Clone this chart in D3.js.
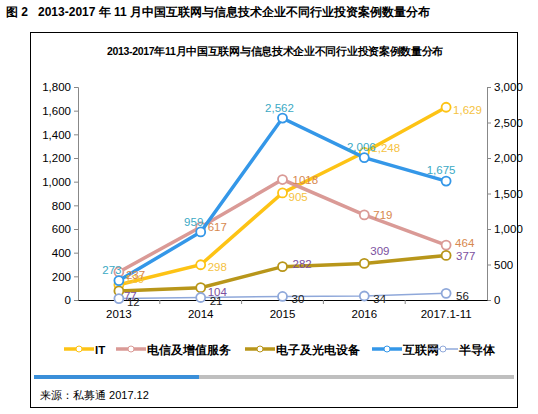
<!DOCTYPE html><html><head><meta charset="utf-8"><script src="https://d3js.org/d3.v7.min.js"></script>
<style>body{margin:0;background:#fff}text{font-family:"Liberation Sans",Arial,sans-serif}</style></head><body>
<script>
const categories=["2013","2014","2015","2016","2017.1-11"];
const itVals=[129,298,905,1248,1629];
const telecomVals=[237,617,1018,719,464];
const electronicsVals=[77,104,282,309,377];
const internetVals=[273,959,2562,2006,1675];
const semiVals=[12,21,30,34,56];
const leftTicks=[0,200,400,600,800,1000,1200,1400,1600,1800];
const rightTicks=[0,500,1000,1500,2000,2500,3000];
const cjk='"Noto Sans CJK SC",sans-serif';
const svg=d3.select("body").append("svg").attr("width",538).attr("height",414);
svg.append("text").attr("x",6).attr("y",16).attr("font-family",cjk).attr("font-weight","bold").attr("font-size",12).attr("xml:space","preserve").style("white-space","pre").text("图 2   2013-2017 年 11 月中国互联网与信息技术企业不同行业投资案例数量分布");
svg.append("rect").attr("x",30.5).attr("y",32.5).attr("width",487).attr("height",375).attr("fill","none").attr("stroke","#000");
svg.append("text").attr("x",275).attr("y",55).attr("text-anchor","middle").attr("font-family",cjk).attr("font-weight","bold").attr("font-size",10.5).attr("letter-spacing",-0.3).text("2013-2017年11月中国互联网与信息技术企业不同行业投资案例数量分布");
const x=d3.scaleBand().domain(categories).range([78,487]);
const yL=d3.scaleLinear().domain([0,1800]).range([300,87]);
const yR=d3.scaleLinear().domain([0,3000]).range([300,87]);
const gL=svg.append("g").attr("transform","translate(78,0)").call(d3.axisLeft(yL).tickValues(leftTicks).tickFormat(d3.format(",")).tickSize(4));
const gR=svg.append("g").attr("transform","translate(487,0)").call(d3.axisRight(yR).tickValues(rightTicks).tickFormat(d3.format(",")).tickSize(4));
const gB=svg.append("g").attr("transform","translate(0,300)").call(d3.axisBottom(x).tickSize(0).tickPadding(10));
[gL,gR,gB].forEach(g=>{g.selectAll("text").attr("font-size",11.5).attr("fill","#000");g.selectAll("path,line").attr("stroke","#888")});
gB.select(".domain").attr("stroke","#000");
gB.selectAll(".mt").data(categories.slice(1)).enter().append("line").attr("x1",d=>x(d)).attr("x2",d=>x(d)).attr("y1",0).attr("y2",4).attr("stroke","#888");
const series=[
 {name:"IT",vals:itVals,c:"#FDC315",y:yL,w:3.5,lc:"#F5C242",dx:[6,7,6,7,7],dy:[-6,2,4,-4,3]},
 {name:"电信及增值服务",vals:telecomVals,c:"#DA9A96",y:yL,w:3.5,lc:"#D7884E",dx:[7,7,10,9,9],dy:[3,0,0,0,-2]},
 {name:"电子及光电设备",vals:electronicsVals,c:"#B8961A",y:yL,w:3.5,lc:"#7B4FA0",dx:[5,7,10,6,10],dy:[5,4,-3,-12,1]},
 {name:"互联网",vals:internetVals,c:"#3497E8",y:yR,w:3.5,lc:"#3BA9C4",dx:[-7,-7,-3,-3,-5],dy:[-11,-10,-10,-11,-11]},
 {name:"半导体",vals:semiVals,c:"#8FA8DA",y:yL,w:1.5,lc:"#222",dx:[8,9,9,9,10],dy:[3,3,3,3,3]}];
const labels=svg.append("g");
series.forEach(s=>{
 const pts=s.vals.map((v,i)=>[x(categories[i])+x.bandwidth()/2,s.y(v)]);
 svg.append("path").attr("d",d3.line()(pts)).attr("fill","none").attr("stroke",s.c).attr("stroke-width",s.w);
 svg.selectAll(null).data(pts).enter().append("circle").attr("cx",d=>d[0]).attr("cy",d=>d[1]).attr("r",4.5).attr("fill","#fff").attr("stroke",s.c).attr("stroke-width",1.8);
 labels.selectAll(null).data(s.vals).enter().append("text").attr("x",(d,i)=>pts[i][0]+s.dx[i]).attr("y",(d,i)=>pts[i][1]+s.dy[i]+4)
  .attr("text-anchor",s.name==="互联网"?"middle":"start").attr("font-size",11.5).attr("fill",s.lc).text(d=>d===1018?"1018":d3.format(",")(d));
});
labels.raise();
const lg=[{n:"IT",x:60},{n:"电信及增值服务",x:112},{n:"电子及光电设备",x:241},{n:"互联网",x:368},{n:"半导体",x:424}];
lg.forEach((l,i)=>{const s=series[i];const g=svg.append("g").attr("transform",`translate(${l.x+4},349)`);
 g.append("line").attr("x1",0).attr("x2",30).attr("stroke",s.c).attr("stroke-width",s.w);
 g.append("circle").attr("cx",15).attr("r",3).attr("fill","#fff").attr("stroke",s.c);
 g.append("text").attr("x",31).attr("y",5).attr("font-family",cjk).attr("font-weight","bold").attr("font-size",11.5).text(l.n);});
svg.append("rect").attr("x",34).attr("y",375).attr("width",480).attr("height",4).attr("fill","#bfbfbf");
svg.append("rect").attr("x",34).attr("y",375).attr("width",165).attr("height",4).attr("fill","#3A8FD9");
svg.append("text").attr("x",40).attr("y",399).attr("font-family",cjk).attr("font-size",11).text("来源：私募通 2017.12");
</script></body></html>
